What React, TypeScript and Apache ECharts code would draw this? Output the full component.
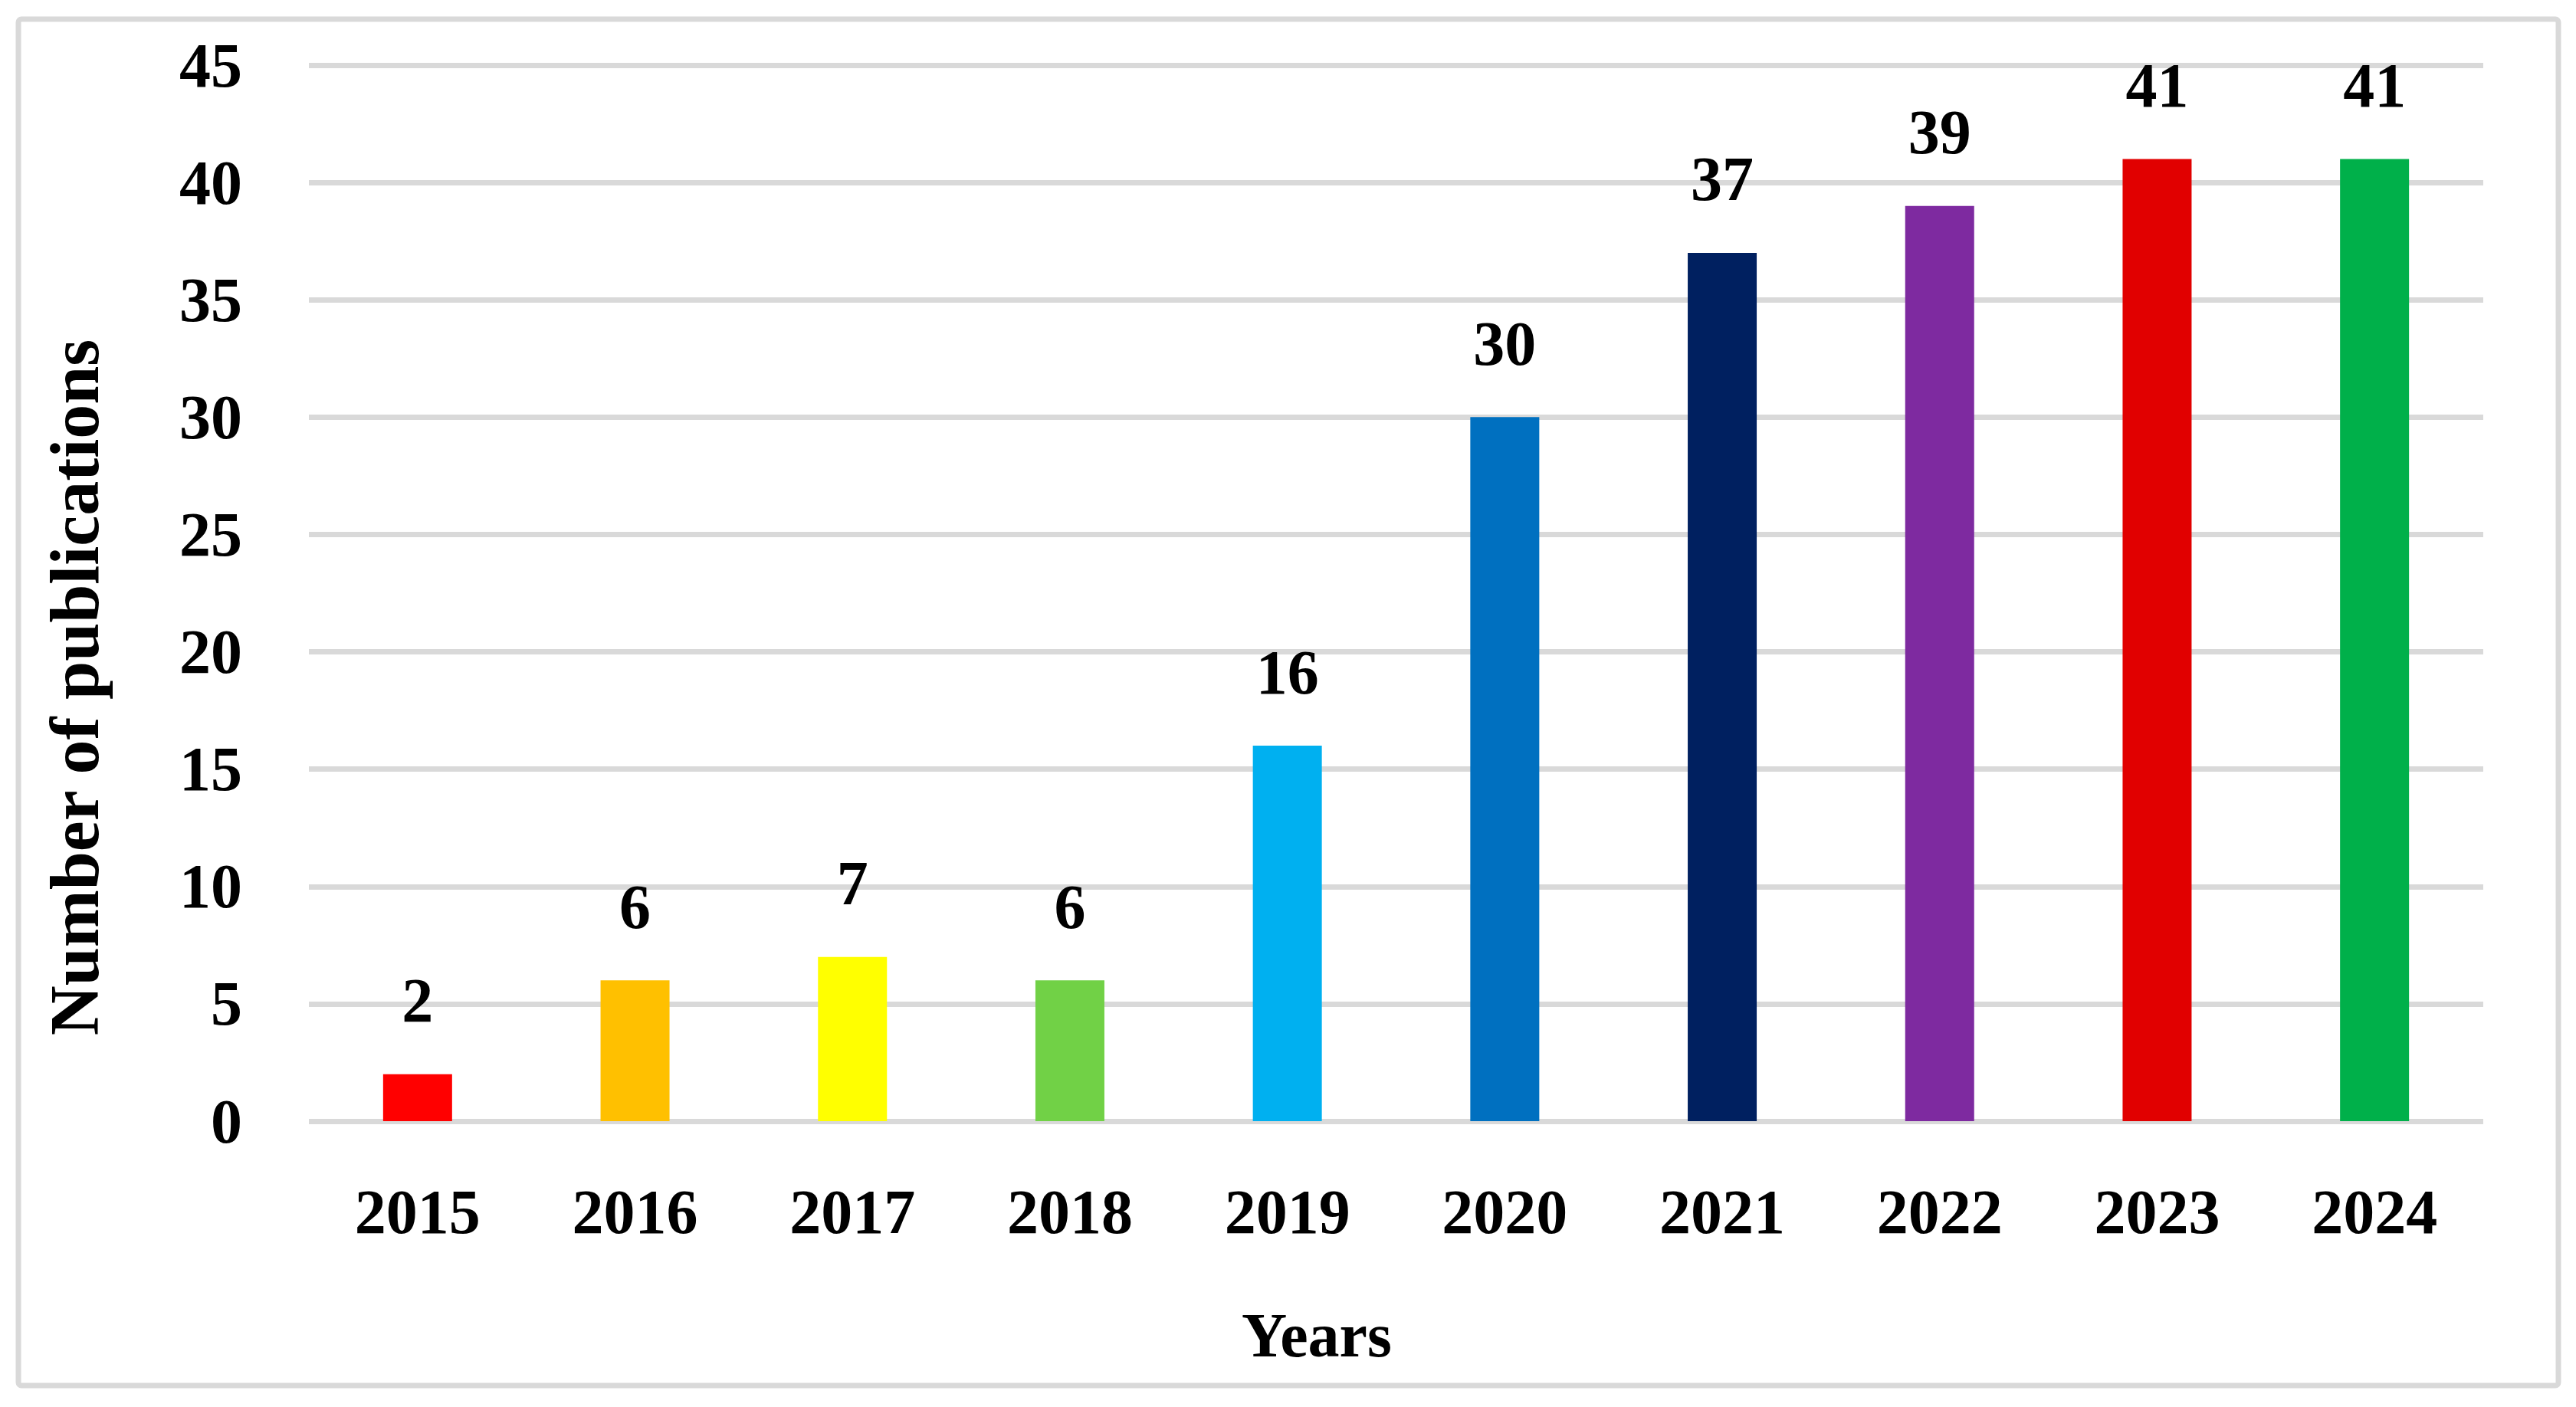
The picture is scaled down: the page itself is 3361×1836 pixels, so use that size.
import React, { useEffect, useRef } from "react";
import * as echarts from "echarts";

const years = ["2015", "2016", "2017", "2018", "2019", "2020", "2021", "2022", "2023", "2024"];
const publications = [2, 6, 7, 6, 16, 30, 37, 39, 41, 41];
const barColors = [
  "#FF0000",
  "#FFC000",
  "#FFFF00",
  "#71D146",
  "#00B0F0",
  "#0070C0",
  "#002060",
  "#7E2AA0",
  "#E10000",
  "#00B04A",
];
const yTicks = { min: 0, max: 45, interval: 5 };
const xTitle = "Years";
const yTitle = "Number of publications";

const FONT = "'Liberation Serif', 'Times New Roman', serif";

export default function App() {
  const ref = useRef<HTMLDivElement>(null);
  useEffect(() => {
    document.body.style.margin = "0";
    if (!ref.current) return;
    const chart = echarts.init(ref.current, null, { renderer: "svg" });
    chart.setOption({
      animation: false,
      backgroundColor: "#ffffff",
      grid: { left: 403, right: 121, top: 85, bottom: 373, containLabel: false },
      xAxis: {
        type: "category",
        data: years,
        axisLine: { show: false },
        axisTick: { show: false },
        axisLabel: {
          margin: 77,
          color: "#000",
          fontFamily: FONT,
          fontWeight: "bold",
          fontSize: 82,
        },
      },
      yAxis: {
        type: "value",
        min: yTicks.min,
        max: yTicks.max,
        interval: yTicks.interval,
        axisLine: { show: false },
        axisTick: { show: false },
        splitLine: { lineStyle: { color: "#D9D9D9", width: 7 } },
        axisLabel: {
          margin: 87,
          color: "#000",
          fontFamily: FONT,
          fontWeight: "bold",
          fontSize: 82,
        },
      },
      series: [
        {
          type: "bar",
          barWidth: 90,
          data: publications.map((v, i) => ({ value: v, itemStyle: { color: barColors[i] } })),
          label: {
            show: true,
            position: "top",
            distance: 55,
            color: "#000",
            fontFamily: FONT,
            fontWeight: "bold",
            fontSize: 82,
          },
        },
      ],
      graphic: [
        {
          type: "rect",
          shape: { x: 24, y: 25, width: 3314, height: 1783, r: 4 },
          style: { fill: "none", stroke: "#D9D9D9", lineWidth: 7 },
          silent: true,
        },
        {
          type: "text",
          x: 1718,
          y: 1742,
          style: {
            text: xTitle,
            fill: "#000",
            font: `bold 82px ${FONT}`,
            textAlign: "center",
            textVerticalAlign: "middle",
          },
        },
        {
          type: "text",
          x: 97,
          y: 897,
          rotation: Math.PI / 2,
          style: {
            text: yTitle,
            fill: "#000",
            font: `bold 90px ${FONT}`,
            textAlign: "center",
            textVerticalAlign: "middle",
          },
        },
      ],
    });
    return () => chart.dispose();
  }, []);
  return <div ref={ref} style={{ width: 3361, height: 1836 }} />;
}
